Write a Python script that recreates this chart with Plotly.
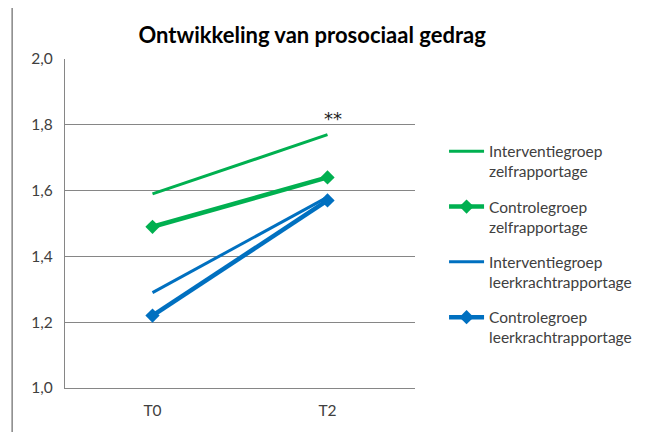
import plotly.graph_objects as go

categories = ["T0", "T2"]
interventie_zelf = [1.59, 1.77]
controle_zelf = [1.49, 1.64]
interventie_leerkracht = [1.29, 1.58]
controle_leerkracht = [1.22, 1.57]
names = ["Interventiegroep<br>zelfrapportage", "Controlegroep<br>zelfrapportage",
         "Interventiegroep<br>leerkrachtrapportage", "Controlegroep<br>leerkrachtrapportage"]
y_ticks = [1.0, 1.2, 1.4, 1.6, 1.8, 2.0]
y_ticklabels = ["1,0", "1,2", "1,4", "1,6", "1,8", "2,0"]

GREEN = "#00B050"
BLUE = "#0070C0"
FONT = "Lato"

fig = go.Figure()
fig.add_trace(go.Scatter(x=categories, y=interventie_zelf, name=names[0], mode="lines",
                         legendgroup="a", line=dict(color=GREEN, width=3)))
fig.add_trace(go.Scatter(x=categories, y=controle_zelf, name=names[1], mode="lines+markers",
                         legendgroup="b", line=dict(color=GREEN, width=4.5),
                         marker=dict(symbol="diamond", size=11, color=GREEN)))
fig.add_trace(go.Scatter(x=categories, y=interventie_leerkracht, name=names[2], mode="lines",
                         legendgroup="c", line=dict(color=BLUE, width=3)))
fig.add_trace(go.Scatter(x=categories, y=controle_leerkracht, name=names[3], mode="lines+markers",
                         legendgroup="d", line=dict(color=BLUE, width=4.5),
                         marker=dict(symbol="diamond", size=11, color=BLUE)))

fig.add_annotation(x=categories[1], y=1.818, text="**", showarrow=False,
                   font=dict(family="DejaVu Sans", size=18, color="#222222"), xshift=5)

fig.add_shape(type="rect", xref="paper", yref="paper", x0=-0.151, y0=-0.3, x1=1.9, y1=1.158,
              line=dict(color="#868686", width=1.5), fillcolor="rgba(0,0,0,0)", layer="below")

fig.update_layout(
    width=654, height=432,
    margin=dict(l=57, r=247, t=51, b=52),
    paper_bgcolor="white", plot_bgcolor="white",
    title=dict(text="<b>Ontwikkeling van prosociaal gedrag</b>", x=0.465, xanchor="center",
               y=0.937, yanchor="middle",
               font=dict(family=FONT, size=22, color="black")),
    font=dict(family=FONT, size=15.5, color="#404040"),
    xaxis=dict(type="category", range=[-0.5, 1.5], showgrid=False,
               showline=True, linecolor="#868686", linewidth=1.2,
               ticks="", ticklabelstandoff=8, tickfont=dict(size=15.5, color="#404040")),
    yaxis=dict(range=[1.0, 2.0], tickvals=y_ticks, ticktext=y_ticklabels,
               showgrid=True, gridcolor="#868686", gridwidth=1.2,
               showline=True, linecolor="#868686", linewidth=1.2,
               ticks="", ticklen=0, ticklabelstandoff=8,
               tickfont=dict(size=15.5, color="#404040"), zeroline=False),
    showlegend=True,
    legend=dict(x=1.083, y=0.77, xanchor="left", yanchor="top", valign="top",
                font=dict(family=FONT, size=15.5, color="#404040"),
                tracegroupgap=12, itemwidth=35, bgcolor="rgba(0,0,0,0)"),
)

fig.write_html("out.html")
